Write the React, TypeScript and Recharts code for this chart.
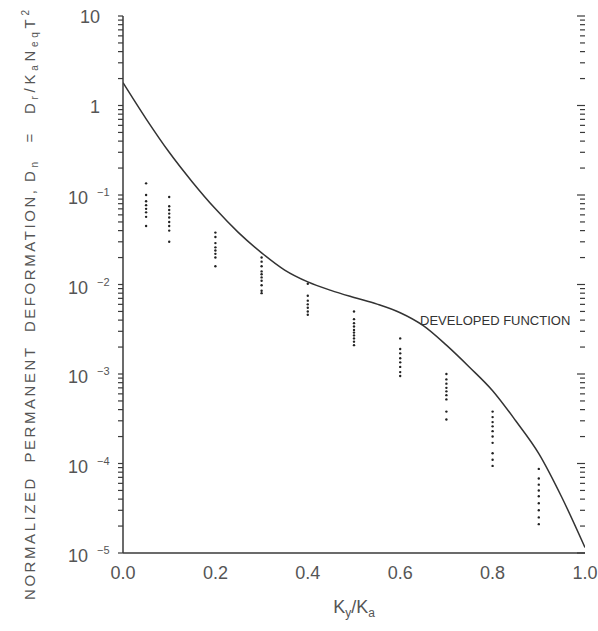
import React from "react"
import { ComposedChart, Line, Scatter, XAxis, YAxis, ReferenceDot, ReferenceLine } from "recharts"

// developed function
const curveX = [0, 0.05, 0.1, 0.15, 0.2, 0.25, 0.3, 0.35, 0.4, 0.45, 0.5, 0.55, 0.6, 0.65, 0.7, 0.75, 0.8, 0.85, 0.9, 0.95, 1.0]
const curveY = [
  1.8, 0.71, 0.3, 0.14, 0.07, 0.038, 0.0226, 0.0145, 0.0107, 0.0086, 0.00716, 0.00603, 0.00484, 0.00347, 0.0021,
  0.00119, 0.00065, 0.0003, 0.000129, 0.0000417, 0.0000115,
]

// computed permanent deformations, grouped by Ky/Ka
const groupX = [0.05, 0.1, 0.2, 0.3, 0.4, 0.5, 0.6, 0.7, 0.8, 0.9]
const groupY = [
  [0.135, 0.1, 0.085, 0.077, 0.07, 0.064, 0.057, 0.045],
  [0.095, 0.075, 0.068, 0.062, 0.056, 0.05, 0.045, 0.04, 0.03],
  [0.038, 0.034, 0.029, 0.026, 0.024, 0.022, 0.02, 0.016],
  [0.02, 0.018, 0.016, 0.014, 0.013, 0.012, 0.011, 0.0098, 0.0085, 0.008],
  [0.0102, 0.0075, 0.0066, 0.006, 0.0055, 0.005, 0.0046],
  [0.005, 0.0041, 0.0037, 0.0034, 0.0031, 0.0029, 0.0027, 0.0025, 0.0023, 0.0021],
  [0.0025, 0.0019, 0.0017, 0.0015, 0.00135, 0.0012, 0.00105, 0.00095],
  [0.001, 0.00087, 0.00078, 0.0007, 0.00064, 0.00058, 0.00052, 0.00038, 0.00031],
  [0.00038, 0.00033, 0.00029, 0.00026, 0.00023, 0.0002, 0.00017, 0.00013, 0.00011, 0.000094],
  [0.000087, 0.000068, 0.000058, 0.00005, 0.000043, 0.000036, 0.00003, 0.000025, 0.000021],
]

const xLabels = ["0.0", "0.2", "0.4", "0.6", "0.8", "1.0"]
const decades = [-5, -4, -3, -2, -1, 0, 1]

const curve = curveX.map((x, i) => ({ x, y: curveY[i] }))
const points = groupX.flatMap((x, i) => groupY[i].map((y) => ({ x, y })))

const xTicks = Array.from({ length: 51 }, (_, i) => (i * 2) / 100)
const xTicksTenth = Array.from({ length: 11 }, (_, i) => i / 10)
const xTicksFifth = Array.from({ length: 6 }, (_, i) => i / 5)
const yTicks: number[] = []
decades.forEach((d) => {
  for (let m = 1; m <= (d === 1 ? 1 : 9); m++) yTicks.push(Number((m * Math.pow(10, d)).toPrecision(3)))
})

const ink = "#3a3a3a"
const textCol = "#555"
const font = "'Liberation Sans', Arial, sans-serif"
const TS = 5

const isDecade = (v: number) => {
  const l = Math.log10(v)
  return Math.abs(l - Math.round(l)) < 1e-6
}

// x passed in is the outer end of the native tick line (axis x - TS)
function LeftTick(props: any) {
  const { y, payload } = props
  const ax = props.x + TS
  const v = payload.value
  if (!isDecade(v)) return <g />
  const e = Math.round(Math.log10(v))
  if (e === 1 || e === 0) {
    return (
      <text x={ax - 23} y={y + 7} textAnchor="end" fontSize={18} fill={textCol} fontFamily={font}>
        {e === 1 ? "10" : "1"}
      </text>
    )
  }
  return (
    <g fill={textCol} fontFamily={font}>
      <text x={ax - 35} y={y + 9} textAnchor="end" fontSize={18}>
        10
      </text>
      <text x={ax - 26} y={y + 1} textAnchor="start" fontSize={11}>
        {"\u2212" + -e}
      </text>
    </g>
  )
}

function BottomTick(props: any) {
  const { x, y, payload } = props
  const k = Math.round(payload.value * 100)
  if (k % 20 !== 0) return <g />
  return (
    <text x={x} y={y + 26} textAnchor="middle" fontSize={18} fill={textCol} fontFamily={font}>
      {xLabels[k / 20]}
    </text>
  )
}

function YMark(props: any) {
  const { x1, x2, y1, v } = props
  if (y1 == null || isNaN(y1)) return <g />
  const len = isDecade(v) ? 8 : 5
  const xr = Math.max(x1, x2)
  return <path d={`M${xr},${y1}H${xr - len}`} stroke={ink} strokeWidth={1.2} fill="none" />
}

function Dot(props: any) {
  const { cx, cy } = props
  return <circle cx={cx} cy={cy} r={1.2} fill="#222" />
}

const noLabel = () => <g />
const tickStroke = { stroke: ink, strokeWidth: 1.2 }

// mirrored bottom axes: native tick lines that point up into the plot
function markAxis(id: string, ticks: number[], size: number) {
  return (
    <XAxis
      key={id}
      xAxisId={id}
      orientation="bottom"
      mirror
      type="number"
      domain={[0, 1]}
      allowDataOverflow
      ticks={ticks}
      interval={0}
      height={0}
      tickSize={size}
      tickMargin={0}
      tickLine={tickStroke}
      tick={noLabel}
      axisLine={false}
    />
  )
}

export default function App() {
  return (
    <div style={{ position: "absolute", left: 0, top: 0, background: "#fff" }}>
      <ComposedChart width={598} height={631} margin={{ top: 16, right: 13, bottom: 0, left: 0 }}>
        <XAxis
          dataKey="x"
          type="number"
          domain={[0, 1]}
          allowDataOverflow
          ticks={xTicks}
          interval={0}
          height={78}
          tickSize={0}
          tickMargin={0}
          tickLine={false}
          tick={<BottomTick />}
          axisLine={{ stroke: ink, strokeWidth: 1.5 }}
          label={(p: any) => {
            const vb = p.viewBox
            const cx = vb.x + vb.width / 2
            return (
              <text x={cx} y={vb.y + 60} textAnchor="middle" fontSize={18} fill={textCol} fontFamily={font}>
                K
                <tspan fontSize={12} dy={4}>y</tspan>
                <tspan dy={-4}>/K</tspan>
                <tspan fontSize={12} dy={4}>a</tspan>
              </text>
            )
          }}
        />
        {markAxis("m1", xTicks, 5)}
        {markAxis("m2", xTicksTenth, 7)}
        {markAxis("m3", xTicksFifth, 9)}
        <XAxis
          xAxisId="top"
          orientation="top"
          type="number"
          domain={[0, 1]}
          height={0}
          tick={false}
          tickLine={false}
          axisLine={{ stroke: ink, strokeWidth: 1.5 }}
        />
        <YAxis
          dataKey="y"
          scale="log"
          domain={[1e-5, 10]}
          allowDataOverflow
          ticks={yTicks}
          interval={0}
          width={123}
          tickSize={TS}
          tickMargin={0}
          tickLine={tickStroke}
          tick={<LeftTick />}
          axisLine={{ stroke: ink, strokeWidth: 1.5 }}
          label={() => (
            <g fill={textCol} fontFamily={font} fontSize={15}>
              <text
                x={35}
                y={600}
                transform="rotate(-90, 35, 600)"
                textAnchor="start"
                textLength={410}
                lengthAdjust="spacing"
                style={{ whiteSpace: "pre" }}
              >
                {"NORMALIZED  PERMANENT  DEFORMATION,"}
              </text>
              <text
                x={35}
                y={182}
                transform="rotate(-90, 35, 182)"
                textAnchor="start"
                textLength={172}
                lengthAdjust="spacing"
                style={{ whiteSpace: "pre" }}
              >
                D
                <tspan fontSize={10} dy={3}>n</tspan>
                <tspan dy={-3}>{"  =  D"}</tspan>
                <tspan fontSize={10} dy={3}>r</tspan>
                <tspan dy={-3}>/K</tspan>
                <tspan fontSize={10} dy={3}>a</tspan>
                <tspan dy={-3}>N</tspan>
                <tspan fontSize={10} dy={3}>eq</tspan>
                <tspan dy={-3}>T</tspan>
                <tspan fontSize={10} dy={-6}>2</tspan>
              </text>
            </g>
          )}
        />
        <YAxis
          yAxisId="right"
          orientation="right"
          scale="log"
          domain={[1e-5, 10]}
          allowDataOverflow
          width={0}
          tick={false}
          tickLine={false}
          axisLine={{ stroke: ink, strokeWidth: 1.5 }}
        />
        {yTicks.map((v) => (
          <ReferenceLine key={"ym" + v} y={v} ifOverflow="visible" shape={(p: any) => <YMark {...p} v={v} />} />
        ))}
        <Line
          data={curve}
          dataKey="y"
          type="monotone"
          stroke="#333"
          strokeWidth={1.5}
          dot={false}
          activeDot={false}
          isAnimationActive={false}
        />
        <Scatter data={points} dataKey="y" shape={<Dot />} isAnimationActive={false} />
        <ReferenceDot
          x={0.643}
          y={0.0035}
          r={0}
          stroke="none"
          fill="none"
          label={(p: any) => (
            <text x={p.viewBox.x} y={p.viewBox.y} fontSize={13} fill="#333" fontFamily={font}>
              DEVELOPED FUNCTION
            </text>
          )}
        />
      </ComposedChart>
    </div>
  )
}
